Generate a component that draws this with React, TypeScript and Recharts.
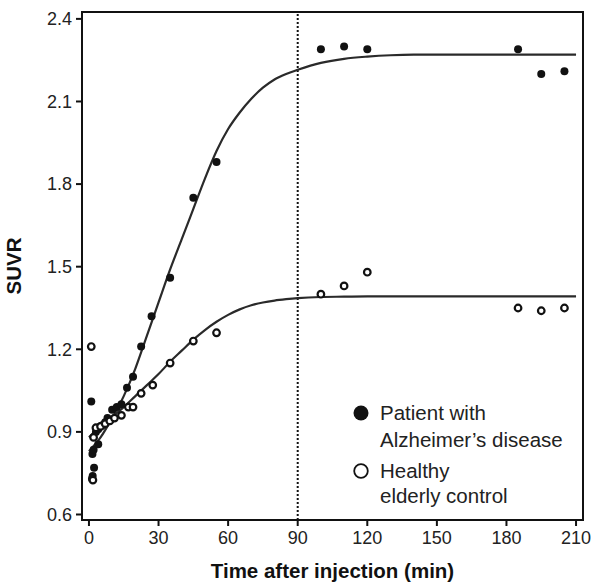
import {
  ComposedChart,
  Line,
  Scatter,
  XAxis,
  YAxis,
  ReferenceLine,
  ReferenceArea,
} from "recharts";

// measured points, Alzheimer's patient (filled)
const adTimes = [1, 1.3, 1.6, 2.2, 1.5, 2, 4, 3, 4, 5, 6, 7, 8, 10, 12, 14, 16.4, 19, 22.5, 27, 35, 45, 55, 100, 110, 120, 185, 195, 205];
const adSuvr = [1.01, 0.73, 0.74, 0.77, 0.82, 0.835, 0.855, 0.9, 0.91, 0.92, 0.925, 0.935, 0.95, 0.98, 0.99, 1.0, 1.06, 1.1, 1.21, 1.32, 1.46, 1.75, 1.88, 2.29, 2.3, 2.29, 2.29, 2.2, 2.21];

// measured points, healthy control (open)
const hcTimes = [1, 1.7, 2, 3, 5, 7, 9, 11, 14, 17, 19, 22.5, 27.5, 35, 45, 55, 100, 110, 120, 185, 195, 205];
const hcSuvr = [1.21, 0.725, 0.88, 0.915, 0.92, 0.93, 0.94, 0.95, 0.96, 0.99, 0.99, 1.04, 1.07, 1.15, 1.23, 1.26, 1.4, 1.43, 1.48, 1.35, 1.34, 1.35];

// fitted curves
const fitTimes = [0, 5, 10, 15, 20, 25, 30, 35, 40, 45, 50, 55, 60, 65, 70, 75, 80, 85, 90, 100, 110, 120, 130, 140, 210];
const adFit = [0.83, 0.88, 0.95, 1.03, 1.13, 1.25, 1.37, 1.49, 1.6, 1.71, 1.82, 1.92, 2.0, 2.06, 2.11, 2.15, 2.18, 2.2, 2.215, 2.24, 2.255, 2.263, 2.268, 2.27, 2.27];
const hcFit = [0.88, 0.92, 0.955, 0.99, 1.03, 1.07, 1.11, 1.155, 1.195, 1.235, 1.27, 1.3, 1.325, 1.345, 1.36, 1.37, 1.377, 1.382, 1.386, 1.39, 1.391, 1.392, 1.392, 1.392, 1.392];

const xTicks = [0, 30, 60, 90, 120, 150, 180, 210];
const yTicks = [0.6, 0.9, 1.2, 1.5, 1.8, 2.1, 2.4];

const adPoints = adTimes.map((x, i) => ({ x, y: adSuvr[i] }));
const hcPoints = hcTimes.map((x, i) => ({ x, y: hcSuvr[i] }));
const adCurve = fitTimes.map((x, i) => ({ x, y: adFit[i] }));
const hcCurve = fitTimes.map((x, i) => ({ x, y: hcFit[i] }));

const font = "'Liberation Sans', Arial, sans-serif";

const FilledDot = (p: any) => <circle cx={p.cx} cy={p.cy} r={4} fill="#111" />;
const OpenDot = (p: any) => (
  <circle cx={p.cx} cy={p.cy} r={3.3} fill="#fff" stroke="#111" strokeWidth={2.2} />
);

function LegendBox() {
  const txt = { fontFamily: font, fontSize: 20.5, fill: "#222" };
  return (
    <svg width={230} height={110} style={{ position: "absolute", left: 352, top: 400 }}>
      <circle cx={9} cy={13} r={7.5} fill="#111" />
      <text x={28} y={20} {...txt}>Patient with</text>
      <text x={28} y={47} {...txt}>Alzheimer’s disease</text>
      <circle cx={9} cy={71} r={6.8} fill="#fff" stroke="#111" strokeWidth={1.8} />
      <text x={28} y={78} {...txt}>Healthy</text>
      <text x={28} y={103} {...txt}>elderly control</text>
    </svg>
  );
}

export default function App() {
  return (
    <div style={{ position: "absolute", left: 0, top: 0, width: 594, height: 585, background: "#fff" }}>
      <ComposedChart
        width={594}
        height={585}
        margin={{ top: 12, right: 11, bottom: 5, left: 0 }}
        style={{ fontFamily: font }}
      >
        <XAxis
          dataKey="x"
          type="number"
          domain={[-3, 213]}
          ticks={xTicks}
          allowDataOverflow
          height={60}
          tickSize={6}
          tickMargin={5}
          axisLine={{ stroke: "#111", strokeWidth: 2 }}
          tickLine={{ stroke: "#111", strokeWidth: 2 }}
          tick={{ fill: "#222", fontSize: 18 }}
          label={{
            value: "Time after injection (min)",
            position: "insideBottom",
            offset: 2,
            style: { fontWeight: "bold", fontSize: 20.5, fill: "#111" },
          }}
        />
        <YAxis
          dataKey="y"
          type="number"
          domain={[0.58, 2.425]}
          ticks={yTicks}
          allowDataOverflow
          width={82}
          tickSize={6}
          tickMargin={4}
          tickFormatter={(v: number) => v.toFixed(1)}
          axisLine={{ stroke: "#111", strokeWidth: 2 }}
          tickLine={{ stroke: "#111", strokeWidth: 2 }}
          tick={{ fill: "#222", fontSize: 18 }}
          label={{
            value: "SUVR",
            angle: -90,
            position: "insideLeft",
            offset: 14,
            style: { fontWeight: "bold", fontSize: 20.5, fill: "#111", textAnchor: "middle" },
          }}
        />
        <ReferenceArea
          x1={-3}
          x2={213}
          y1={0.58}
          y2={2.425}
          fill="none"
          stroke="#111"
          strokeWidth={2}
          ifOverflow="visible"
        />
        <ReferenceLine x={90} stroke="#111" strokeWidth={2} strokeDasharray="2 2" />
        <Line
          data={adCurve}
          dataKey="y"
          type="monotone"
          stroke="#2a2a2a"
          strokeWidth={2.2}
          dot={false}
          isAnimationActive={false}
        />
        <Line
          data={hcCurve}
          dataKey="y"
          type="monotone"
          stroke="#2a2a2a"
          strokeWidth={2.2}
          dot={false}
          isAnimationActive={false}
        />
        <Scatter
          name="Patient with Alzheimer’s disease"
          data={adPoints}
          dataKey="y"
          shape={FilledDot}
          isAnimationActive={false}
        />
        <Scatter
          name="Healthy elderly control"
          data={hcPoints}
          dataKey="y"
          shape={OpenDot}
          isAnimationActive={false}
        />
      </ComposedChart>
      <LegendBox />
    </div>
  );
}
